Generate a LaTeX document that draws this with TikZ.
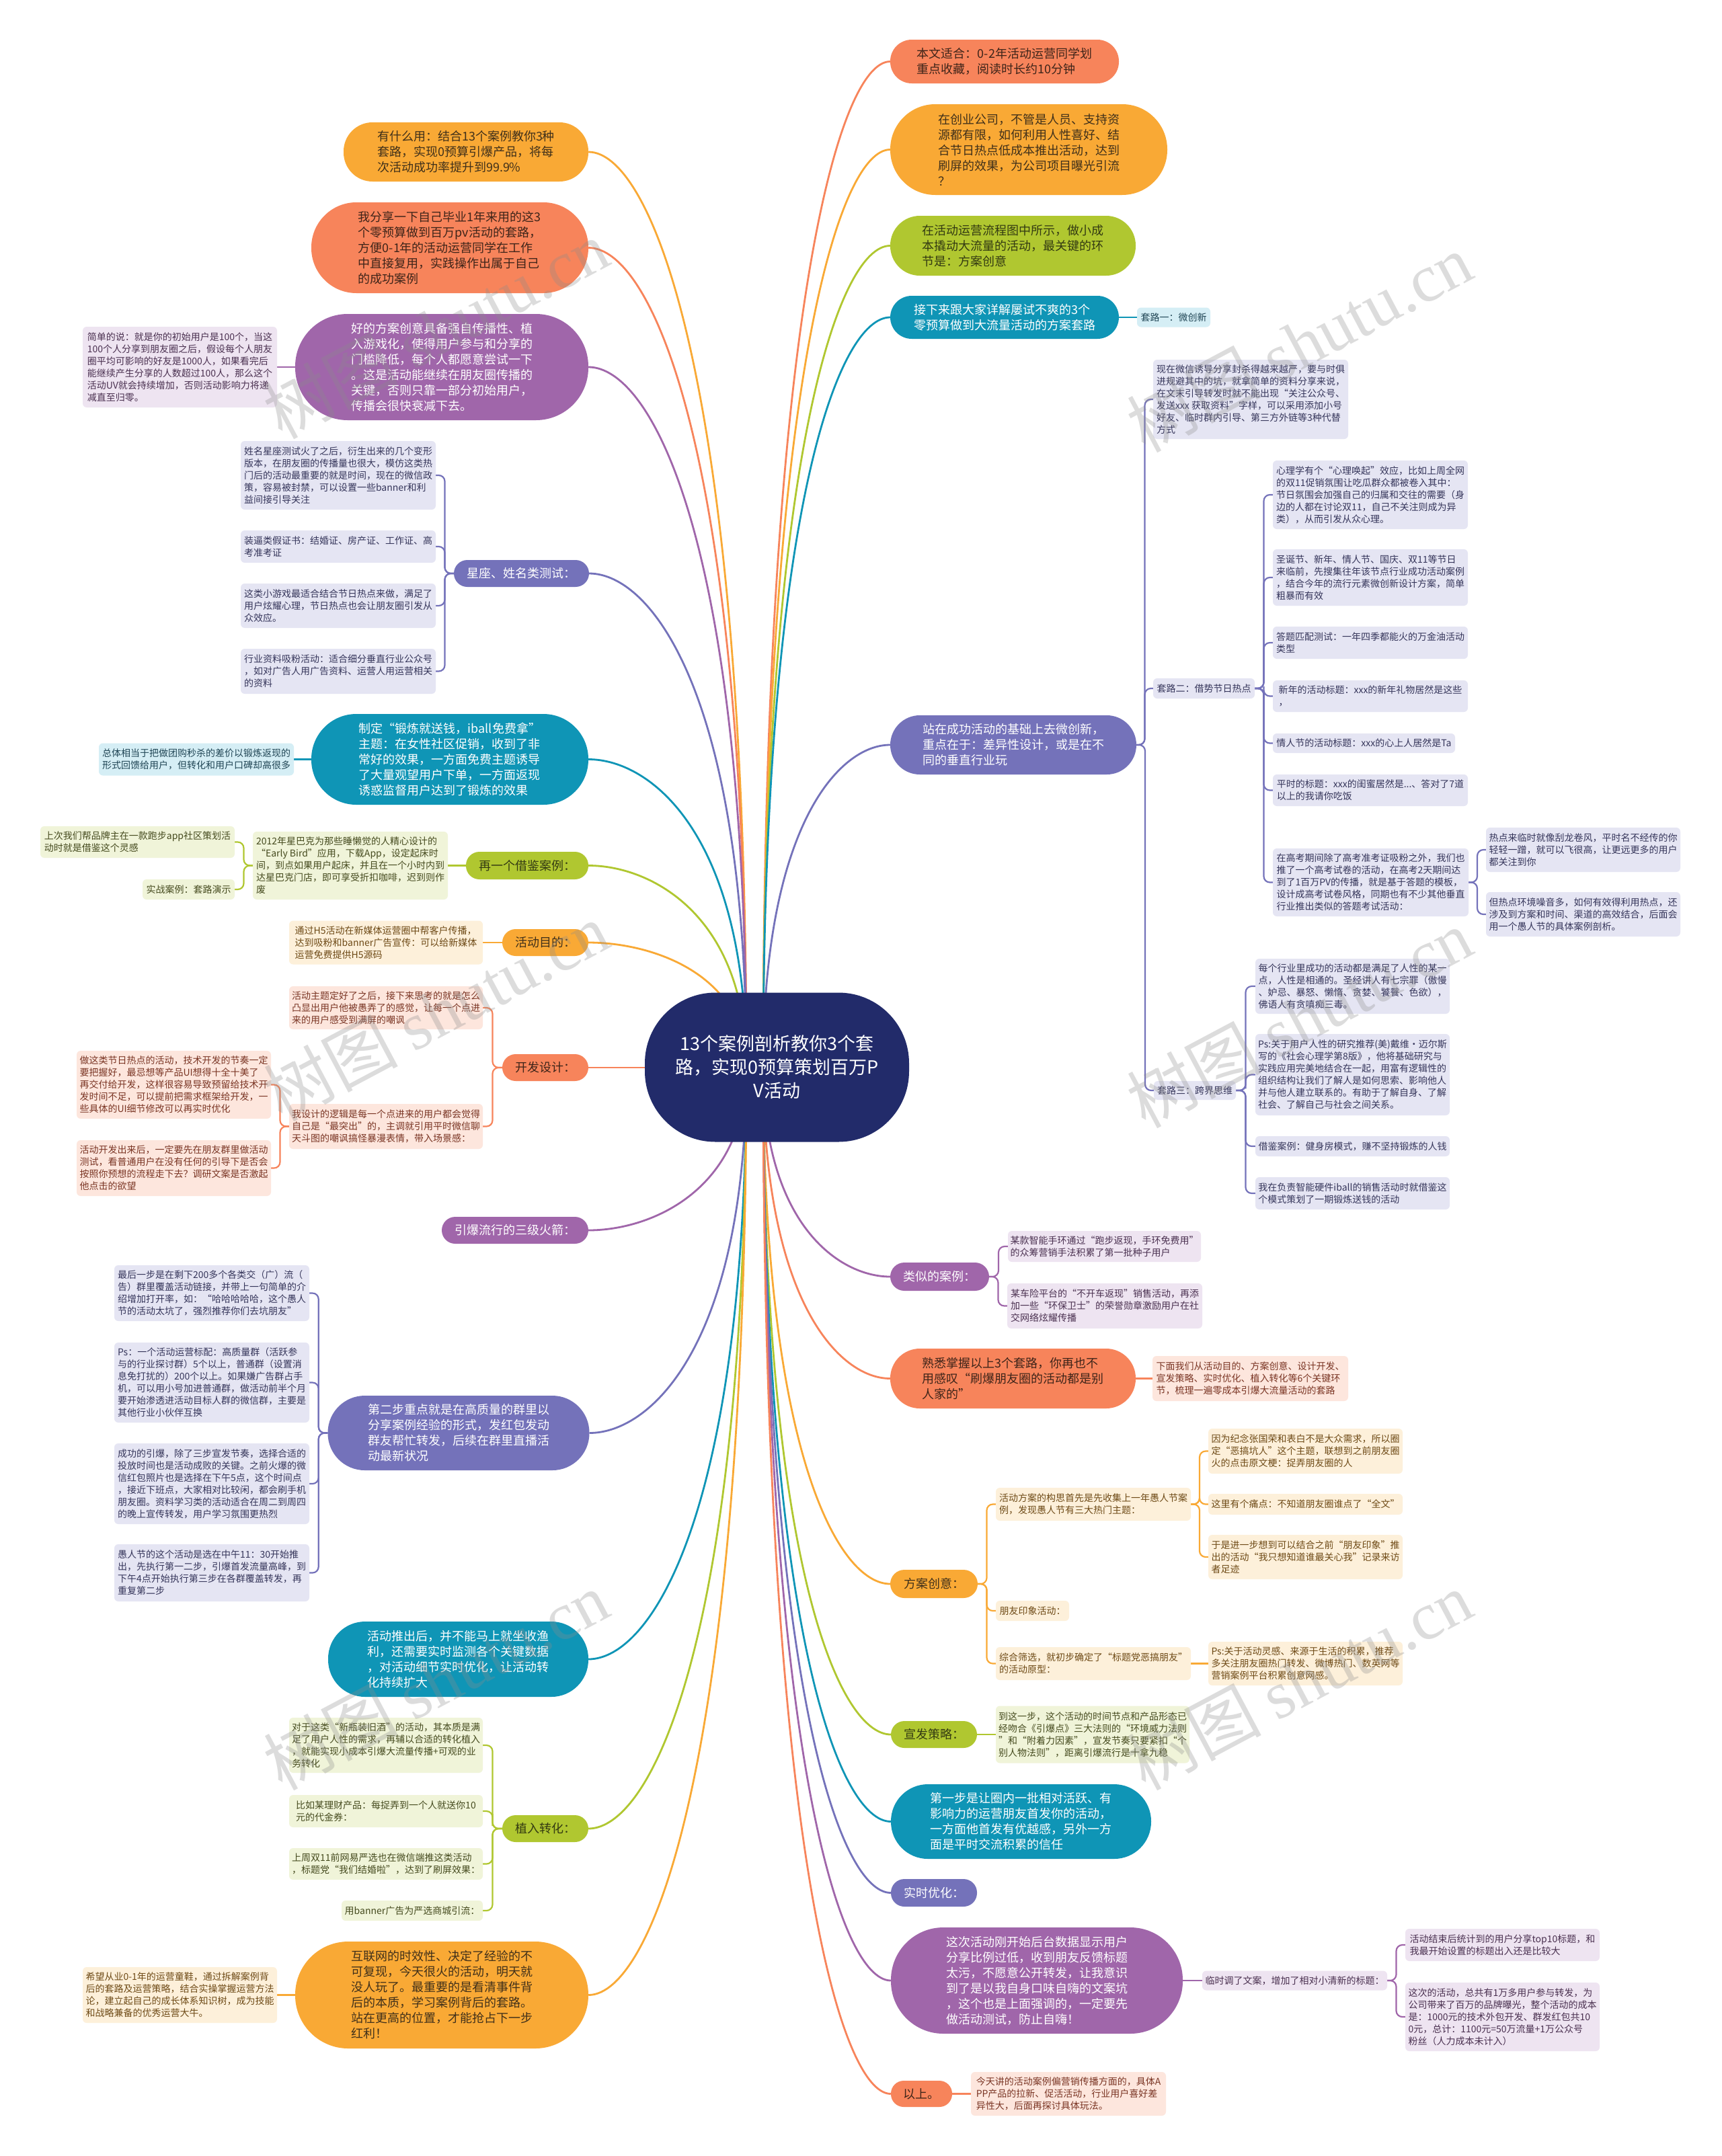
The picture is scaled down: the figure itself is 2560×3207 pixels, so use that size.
\documentclass[tikz,border=0pt]{standalone}
\usepackage{fontspec}
\setmainfont{Noto Sans CJK SC}
\newfontfamily\wmserif{Liberation Serif}
\usetikzlibrary{calc}
\pgfdeclarelayer{bg}
\pgfsetlayers{bg,main}
\definecolor{cOr}{HTML}{F9A935}
\definecolor{cCo}{HTML}{F7845B}
\definecolor{cPu}{HTML}{A066AA}
\definecolor{cBp}{HTML}{7472BA}
\definecolor{cTe}{HTML}{0F95B6}
\definecolor{cGr}{HTML}{B0C730}
\definecolor{cNv}{HTML}{222B6A}
\definecolor{fOr}{HTML}{FDF0DA}
\definecolor{fCo}{HTML}{FDE6DD}
\definecolor{fPu}{HTML}{EEE4F1}
\definecolor{fBp}{HTML}{E5E5F3}
\definecolor{fTe}{HTML}{D5EEF5}
\definecolor{fGr}{HTML}{F0F4D9}
\definecolor{tOr}{HTML}{6E4A16}
\definecolor{tCo}{HTML}{7A3524}
\definecolor{tPu}{HTML}{4A3050}
\definecolor{tBp}{HTML}{35355A}
\definecolor{tTe}{HTML}{1F4454}
\definecolor{tGr}{HTML}{454A1E}
\definecolor{tOrM}{HTML}{40301A}
\definecolor{tCoM}{HTML}{3E2419}
\definecolor{tGrM}{HTML}{333A12}
\tikzset{
  mn/.style n args={3}{fill=#1, text=#2, rounded corners=#3, inner sep=0pt, align=left, font=\fontsize{18pt}{23pt}\selectfont},
  lf/.style n args={2}{fill=#1, text=#2, rounded corners=6pt, inner sep=0pt, align=left, font=\fontsize{14pt}{18pt}\selectfont},
  sz/.style 2 args={minimum width=#1pt, minimum height=#2pt},
  ml/.style={line width=2.8pt},
  lk/.style={line width=2.2pt, rounded corners=9pt},
  wm/.style={text=black!45, opacity=0.3, rotate=28, font=\fontsize{100pt}{110pt}\selectfont},
}
\newcommand\cL[2]{\draw[ml,#1] (sl) .. controls ($(sl)!0.75!(sl |- #2.east)$) and ($(#2.east)!0.4!(sl |- #2.east)$) .. (#2.east);}
\newcommand\cR[2]{\draw[ml,#1] (sr) .. controls ($(sr)!0.75!(sr |- #2.west)$) and ($(#2.west)!0.4!(sr |- #2.west)$) .. (#2.west);}
\newcommand\bL[3]{\draw[lk,#1] (#2.west) -| ($(#2.west)!0.5!(#3.east)$) |- (#3.east);}
\newcommand\bR[3]{\draw[lk,#1] (#2.east) -| ($(#2.east)!0.5!(#3.west)$) |- (#3.west);}
\newcommand\sL[3]{\draw[lk,#1] (#2.west) -- (#3.east);}
\newcommand\sR[3]{\draw[lk,#1] (#2.east) -- (#3.west);}
\begin{document}
\begin{tikzpicture}[x=1pt,y=-1pt]
\useasboundingbox (0,0) rectangle (2560,3207);
\begin{pgfonlayer}{bg}\fill[white] (0,0) rectangle (2560,3207);\end{pgfonlayer}

% ---------- centre ----------
\node[mn={cNv}{white}{105pt}, sz={393}{222}, align=center, font=\fontsize{27pt}{35pt}\selectfont] (cc) at (1155.5,1587.5) {13个案例剖析教你3个套\\路，实现0预算策划百万P\\V活动};
\coordinate (sl) at (1110,1588);
\coordinate (sr) at (1135,1588);

% ---------- left main ----------
\node[mn={cOr}{tOrM}{43pt}, sz={364}{88}] (l1) at (693,226) {有什么用：结合13个案例教你3种\\套路，实现0预算引爆产品，将每\\次活动成功率提升到99.9\%};
\node[mn={cCo}{tCoM}{67pt}, sz={412}{135}] (l2) at (669,368.5) {我分享一下自己毕业1年来用的这3\\个零预算做到百万pv活动的套路，\\方便0-1年的活动运营同学在工作\\中直接复用，实践操作出属于自己\\的成功案例};
\node[mn={cPu}{white}{78pt}, sz={436}{158}] (l3) at (657,546) {好的方案创意具备强自传播性、植\\入游戏化，使得用户参与和分享的\\门槛降低，每个人都愿意尝试一下\\。这是活动能继续在朋友圈传播的\\关键，否则只靠一部分初始用户，\\传播会很快衰减下去。};
\node[lf={fPu}{tPu}, sz={289}{120}] (l3a) at (267.5,546) {简单的说：就是你的初始用户是100个，当这\\100个人分享到朋友圈之后，假设每个人朋友\\圈平均可影响的好友是1000人，如果看完后\\能继续产生分享的人数超过100人，那么这个\\活动UV就会持续增加，否则活动影响力将递\\减直至归零。};

\node[mn={cBp}{white}{20pt}, sz={201}{40}] (l4) at (775.5,853) {星座、姓名类测试：};
\node[lf={fBp}{tBp}, sz={290}{102}] (l4a) at (503,707) {姓名星座测试火了之后，衍生出来的几个变形\\版本，在朋友圈的传播量也很大，模仿这类热\\门后的活动最重要的就是时间，现在的微信政\\策，容易被封禁，可以设置一些banner和利\\益间接引导关注};
\node[lf={fBp}{tBp}, sz={290}{48}] (l4b) at (503,813) {装逼类假证书：结婚证、房产证、工作证、高\\考准考证};
\node[lf={fBp}{tBp}, sz={290}{66}] (l4c) at (503,901) {这类小游戏最适合结合节日热点来做，满足了\\用户炫耀心理，节日热点也会让朋友圈引发从\\众效应。};
\node[lf={fBp}{tBp}, sz={290}{67}] (l4d) at (503,998.5) {行业资料吸粉活动：适合细分垂直行业公众号\\，如对广告人用广告资料、运营人用运营相关\\的资料};

\node[mn={cTe}{white}{67pt}, sz={412}{135}] (l5) at (669,1129.5) {制定“锻炼就送钱，iball免费拿”\\主题：在女性社区促销，收到了非\\常好的效果，一方面免费主题诱导\\了大量观望用户下单，一方面返现\\诱惑监督用户达到了锻炼的效果};
\node[lf={fTe}{tTe}, sz={290}{48}] (l5a) at (292,1129.5) {总体相当于把做团购秒杀的差价以锻炼返现的\\形式回馈给用户，但转化和用户口碑却高很多};

\node[mn={cGr}{tGrM}{20pt}, sz={182}{41}] (l6) at (784,1287.5) {再一个借鉴案例：};
\node[lf={fGr}{tGr}, sz={290}{101}] (l6a) at (521,1287.5) {2012年星巴克为那些睡懒觉的人精心设计的\\“Early Bird”应用，下载App，设定起床时\\间，到点如果用户起床，并且在一个小时内到\\达星巴克门店，即可享受折扣咖啡，迟到则作\\废};
\node[lf={fGr}{tGr}, sz={289}{47}] (l6a1) at (204.5,1252.5) {上次我们帮品牌主在一款跑步app社区策划活\\动时就是借鉴这个灵感};
\node[lf={fGr}{tGr}, sz={137}{30}] (l6a2) at (280.5,1323) {实战案例：套路演示};

\node[mn={cOr}{tOrM}{20pt}, sz={128}{40}] (l7) at (811,1402) {活动目的：};
\node[lf={fOr}{tOr}, sz={288}{65}] (l7a) at (574,1402) {通过H5活动在新媒体运营圈中帮客户传播，\\达到吸粉和banner广告宣传：可以给新媒体\\运营免费提供H5源码};

\node[mn={cCo}{tCoM}{20pt}, sz={128}{40}] (l8) at (811,1588) {开发设计：};
\node[lf={fCo}{tCo}, sz={288}{64}] (l8a) at (574,1499) {活动主题定好了之后，接下来思考的就是怎么\\凸显出用户他被愚弄了的感觉，让每一个点进\\来的用户感受到满屏的嘲讽};
\node[lf={fCo}{tCo}, sz={288}{67}] (l8b) at (574,1675.5) {我设计的逻辑是每一个点进来的用户都会觉得\\自己是“最突出”的，主调就引用平时微信聊\\天斗图的嘲讽搞怪暴漫表情，带入场景感：};
\node[lf={fCo}{tCo}, sz={289}{101}] (l8b1) at (258.5,1613.5) {做这类节日热点的活动，技术开发的节奏一定\\要把握好，最忌想等产品UI想得十全十美了\\再交付给开发，这样很容易导致预留给技术开\\发时间不足，可以提前把需求框架给开发，一\\些具体的UI细节修改可以再实时优化};
\node[lf={fCo}{tCo}, sz={289}{83}] (l8b2) at (258.5,1737.5) {活动开发出来后，一定要先在朋友群里做活动\\测试，看普通用户在没有任何的引导下是否会\\按照你预想的流程走下去？调研文案是否激起\\他点击的欲望};

\node[mn={cPu}{white}{20pt}, sz={218}{40}] (l9) at (766,1830) {引爆流行的三级火箭：};

\node[mn={cBp}{white}{55pt}, sz={389}{111}] (l10) at (682,2131.5) {第二步重点就是在高质量的群里以\\分享案例经验的形式，发红包发动\\群友帮忙转发，后续在群里直播活\\动最新状况};
\node[lf={fBp}{tBp}, sz={290}{83}] (l10a) at (315,1923.5) {最后一步是在剩下200多个各类交（广）流（\\告）群里覆盖活动链接，并带上一句简单的介\\绍增加打开率，如：“哈哈哈哈哈，这个愚人\\节的活动太坑了，强烈推荐你们去坑朋友”};
\node[lf={fBp}{tBp}, sz={290}{119}] (l10b) at (315,2056.5) {Ps：一个活动运营标配：高质量群（活跃参\\与的行业探讨群）5个以上，普通群（设置消\\息免打扰的）200个以上。如果嫌广告群占手\\机，可以用小号加进普通群，做活动前半个月\\要开始渗透进活动目标人群的微信群，主要是\\其他行业小伙伴互换};
\node[lf={fBp}{tBp}, sz={290}{120}] (l10c) at (315,2207) {成功的引爆，除了三步宣发节奏，选择合适的\\投放时间也是活动成败的关键。之前火爆的微\\信红包照片也是选择在下午5点，这个时间点\\，接近下班点，大家相对比较闲，都会刷手机\\朋友圈。资料学习类的活动适合在周二到周四\\的晚上宣传转发，用户学习氛围更热烈};
\node[lf={fBp}{tBp}, sz={290}{85}] (l10d) at (315,2339.5) {愚人节的这个活动是选在中午11：30开始推\\出，先执行第一二步，引爆首发流量高峰，到\\下午4点开始执行第三步在各群覆盖转发，再\\重复第二步};

\node[mn={cTe}{white}{55pt}, sz={387}{112}] (l11) at (681.5,2468) {活动推出后，并不能马上就坐收渔\\利，还需要实时监测各个关键数据\\，对活动细节实时优化，让活动转\\化持续扩大};

\node[mn={cGr}{tGrM}{20pt}, sz={128}{40}] (l12) at (811,2720) {植入转化：};
\node[lf={fGr}{tGr}, sz={288}{82}] (l12a) at (574,2596) {对于这类“新瓶装旧酒”的活动，其本质是满\\足了用户人性的需求，再辅以合适的转化植入\\，就能实现小成本引爆大流量传播+可观的业\\务转化};
\node[lf={fGr}{tGr}, sz={288}{48}] (l12b) at (574,2694) {比如某理财产品：每捉弄到一个人就送你10\\元的代金券：};
\node[lf={fGr}{tGr}, sz={288}{47}] (l12c) at (574,2772.5) {上周双11前网易严选也在微信端推这类活动\\，标题党“我们结婚啦”，达到了刷屏效果：};
\node[lf={fGr}{tGr}, sz={210}{30}] (l12d) at (613,2842) {用banner广告为严选商城引流：};

\node[mn={cOr}{tOrM}{79pt}, sz={436}{159}] (l13) at (657,2967.5) {互联网的时效性、决定了经验的不\\可复现，今天很火的活动，明天就\\没人玩了。最重要的是看清事件背\\后的本质，学习案例背后的套路。\\站在更高的位置，才能抢占下一步\\红利！};
\node[lf={fOr}{tOr}, sz={289}{83}] (l13a) at (267.5,2967.5) {希望从业0-1年的运营童鞋，通过拆解案例背\\后的套路及运营策略，结合实操掌握运营方法\\论，建立起自己的成长体系知识树，成为技能\\和战略兼备的优秀运营大牛。};

% ---------- right main ----------
\node[mn={cCo}{tCoM}{32pt}, sz={340}{65}] (r1) at (1494,91.5) {本文适合：0-2年活动运营同学划\\重点收藏，阅读时长约10分钟};
\node[mn={cOr}{tOrM}{67pt}, sz={412}{135}] (r2) at (1530,222.5) {在创业公司，不管是人员、支持资\\源都有限，如何利用人性喜好、结\\合节日热点低成本推出活动，达到\\刷屏的效果，为公司项目曝光引流\\？};
\node[mn={cGr}{tGrM}{44pt}, sz={365}{89}] (r3) at (1506.5,365.5) {在活动运营流程图中所示，做小成\\本撬动大流量的活动，最关键的环\\节是：方案创意};
\node[mn={cTe}{white}{32pt}, sz={340}{64}] (r4) at (1494,472) {接下来跟大家详解屡试不爽的3个\\零预算做到大流量活动的方案套路};
\node[lf={fTe}{tTe}, sz={109}{29}] (r4a) at (1745.5,472) {套路一：微创新};

\node[mn={cBp}{white}{44pt}, sz={366}{88}] (r5) at (1507,1108) {站在成功活动的基础上去微创新，\\重点在于：差异性设计，或是在不\\同的垂直行业玩};
\node[lf={fBp}{tBp}, sz={290}{118}] (r5a) at (1860,594) {现在微信诱导分享封杀得越来越严，要与时俱\\进规避其中的坑，就拿简单的资料分享来说，\\在文末引导转发时就不能出现“关注公众号、\\发送xxx 获取资料”字样，可以采用添加小号\\好友、临时群内引导、第三方外链等3种代替\\方式};
\node[lf={fBp}{tBp}, sz={151}{30}] (r5b) at (1790.5,1024) {套路二：借势节日热点};
\node[lf={fBp}{tBp}, sz={290}{102}] (r5b1) at (2038,736) {心理学有个“心理唤起”效应，比如上周全网\\的双11促销氛围让吃瓜群众都被卷入其中：\\节日氛围会加强自己的归属和交往的需要（身\\边的人都在讨论双11，自己不关注则成为异\\类），从而引发从众心理。};
\node[lf={fBp}{tBp}, sz={290}{84}] (r5b2) at (2038,859) {圣诞节、新年、情人节、国庆、双11等节日\\来临前，先搜集往年该节点行业成功活动案例\\，结合今年的流行元素微创新设计方案，简单\\粗暴而有效};
\node[lf={fBp}{tBp}, sz={290}{48}] (r5b3) at (2038,956) {答题匹配测试：一年四季都能火的万金油活动\\类型};
\node[lf={fBp}{tBp}, sz={290}{47}] (r5b4) at (2038,1035.5) {新年的活动标题：xxx的新年礼物居然是这些\\，};
\node[lf={fBp}{tBp}, sz={271}{29}] (r5b5) at (2028.5,1105.5) {情人节的活动标题：xxx的心上人居然是Ta};
\node[lf={fBp}{tBp}, sz={290}{47}] (r5b6) at (2038,1175.5) {平时的标题：xxx的闺蜜居然是...、答对了7道\\以上的我请你吃饭};
\node[lf={fBp}{tBp}, sz={291}{101}] (r5b7) at (2038.5,1312.5) {在高考期间除了高考准考证吸粉之外，我们也\\推了一个高考试卷的活动，在高考2天期间达\\到了1百万PV的传播，就是基于答题的模板，\\设计成高考试卷风格，同期也有不少其他垂直\\行业推出类似的答题考试活动：};
\node[lf={fBp}{tBp}, sz={289}{66}] (r5b7a) at (2354.5,1264) {热点来临时就像刮龙卷风，平时名不经传的你\\轻轻一蹭，就可以飞很高，让更远更多的用户\\都关注到你};
\node[lf={fBp}{tBp}, sz={289}{66}] (r5b7b) at (2354.5,1360) {但热点环境噪音多，如何有效得利用热点，还\\涉及到方案和时间、渠道的高效结合，后面会\\用一个愚人节的具体案例剖析。};
\node[lf={fBp}{tBp}, sz={122}{28}] (r5c) at (1777,1622) {套路三：跨界思维};
\node[lf={fBp}{tBp}, sz={289}{82}] (r5c1) at (2011.5,1467) {每个行业里成功的活动都是满足了人性的某一\\点，人性是相通的。圣经讲人有七宗罪（傲慢\\、妒忌、暴怒、懒惰、贪婪、饕餮、色欲），\\佛语人有贪嗔痴三毒。};
\node[lf={fBp}{tBp}, sz={289}{121}] (r5c2) at (2011.5,1598.5) {Ps:关于用户人性的研究推荐(美)戴维·迈尔斯\\写的《社会心理学第8版》，他将基础研究与\\实践应用完美地结合在一起，用富有逻辑性的\\组织结构让我们了解人是如何思索、影响他人\\并与他人建立联系的。有助于了解自身、了解\\社会、了解自己与社会之间关系。};
\node[lf={fBp}{tBp}, sz={289}{30}] (r5c3) at (2011.5,1705) {借鉴案例：健身房模式，赚不坚持锻炼的人钱};
\node[lf={fBp}{tBp}, sz={289}{48}] (r5c4) at (2011.5,1775) {我在负责智能硬件iball的销售活动时就借鉴这\\个模式策划了一期锻炼送钱的活动};

\node[mn={cPu}{white}{21pt}, sz={147}{42}] (r6) at (1397.5,1899) {类似的案例：};
\node[lf={fPu}{tPu}, sz={287}{46}] (r6a) at (1642.5,1854) {某款智能手环通过“跑步返现，手环免费用”\\的众筹营销手法积累了第一批种子用户};
\node[lf={fPu}{tPu}, sz={290}{67}] (r6b) at (1643,1942.5) {某车险平台的“不开车返现”销售活动，再添\\加一些“环保卫士”的荣誉勋章激励用户在社\\交网络炫耀传播};

\node[mn={cCo}{tCoM}{44pt}, sz={365}{89}] (r7) at (1506.5,2050.5) {熟悉掌握以上3个套路，你再也不\\用感叹“刷爆朋友圈的活动都是别\\人家的”};
\node[lf={fCo}{tCo}, sz={291}{67}] (r7a) at (1859.5,2050.5) {下面我们从活动目的、方案创意、设计开发、\\宣发策略、实时优化、植入转化等6个关键环\\节，梳理一遍零成本引爆大流量活动的套路};

\node[mn={cOr}{tOrM}{21pt}, sz={130}{42}] (r8) at (1389,2356) {方案创意：};
\node[lf={fOr}{tOr}, sz={290}{49}] (r8a) at (1626,2237.5) {活动方案的构思首先是先收集上一年愚人节案\\例，发现愚人节有三大热门主题：};
\node[lf={fOr}{tOr}, sz={289}{67}] (r8a1) at (1941.5,2158.5) {因为纪念张国荣和表白不是大众需求，所以圈\\定“恶搞坑人”这个主题，联想到之前朋友圈\\火的点击原文梗：捉弄朋友圈的人};
\node[lf={fOr}{tOr}, sz={289}{31}] (r8a2) at (1941.5,2237.5) {这里有个痛点：不知道朋友圈谁点了“全文”};
\node[lf={fOr}{tOr}, sz={289}{66}] (r8a3) at (1941.5,2316) {于是进一步想到可以结合之前“朋友印象”推\\出的活动“我只想知道谁最关心我”记录来访\\者足迹};
\node[lf={fOr}{tOr}, sz={109}{30}] (r8b) at (1535.5,2396) {朋友印象活动：};
\node[lf={fOr}{tOr}, sz={290}{49}] (r8c) at (1626,2474.5) {综合筛选，就初步确定了“标题党恶搞朋友”\\的活动原型：};
\node[lf={fOr}{tOr}, sz={289}{65}] (r8c1) at (1941.5,2474.5) {Ps:关于活动灵感、来源于生活的积累，推荐\\多关注朋友圈热门转发、微博热门、数英网等\\营销案例平台积累创意网感。};

\node[mn={cGr}{tGrM}{20pt}, sz={128}{40}] (r9) at (1389,2580) {宣发策略：};
\node[lf={fGr}{tGr}, sz={288}{85}] (r9a) at (1625,2580) {到这一步，这个活动的时间节点和产品形态已\\经吻合《引爆点》三大法则的“环境威力法则\\”和“附着力因素”，宣发节奏只要紧扣“个\\别人物法则”，距离引爆流行是十拿九稳};

\node[mn={cTe}{white}{55pt}, sz={387}{111}] (r10) at (1518.5,2709.5) {第一步是让圈内一批相对活跃、有\\影响力的运营朋友首发你的活动，\\一方面他首发有优越感，另外一方\\面是平时交流积累的信任};
\node[mn={cBp}{white}{20pt}, sz={128}{41}] (r11) at (1389,2815.5) {实时优化：};

\node[mn={cPu}{white}{78pt}, sz={434}{158}] (r12) at (1542,2946) {这次活动刚开始后台数据显示用户\\分享比例过低，收到朋友反馈标题\\太污，不愿意公开转发，让我意识\\到了是以我自身口味自嗨的文案坑\\，这个也是上面强调的，一定要先\\做活动测试，防止自嗨！};
\node[lf={fPu}{tPu}, sz={275}{29}] (r12a) at (1925.5,2946) {临时调了文案，增加了相对小清新的标题：};
\node[lf={fPu}{tPu}, sz={289}{48}] (r12a1) at (2234.5,2893) {活动结束后统计到的用户分享top10标题，和\\我最开始设置的标题出入还是比较大};
\node[lf={fPu}{tPu}, sz={289}{102}] (r12a2) at (2234.5,3000) {这次的活动，总共有1万多用户参与转发，为\\公司带来了百万的品牌曝光，整个活动的成本\\是：1000元的技术外包开发、群发红包共10\\0元，总计：1100元=50万流量+1万公众号\\粉丝（人力成本未计入）};

\node[mn={cCo}{tCoM}{19pt}, sz={91}{39}] (r13) at (1370.5,3114.5) {以上。};
\node[lf={fCo}{tCo}, sz={290}{65}] (r13a) at (1589,3114.5) {今天讲的活动案例偏营销传播方面的，具体A\\PP产品的拉新、促活活动，行业用户喜好差\\异性大，后面再探讨具体玩法。};

% ---------- connectors ----------
\begin{pgfonlayer}{bg}
\cL{cOr}{l1}\cL{cCo}{l2}\cL{cPu}{l3}\cL{cBp}{l4}\cL{cTe}{l5}\cL{cGr}{l6}\cL{cOr}{l7}
\cL{cCo}{l8}\cL{cPu}{l9}\cL{cBp}{l10}\cL{cTe}{l11}\cL{cGr}{l12}\cL{cOr}{l13}
\cR{cCo}{r1}\cR{cOr}{r2}\cR{cGr}{r3}\cR{cTe}{r4}\cR{cBp}{r5}\cR{cPu}{r6}\cR{cCo}{r7}
\cR{cOr}{r8}\cR{cGr}{r9}\cR{cTe}{r10}\cR{cBp}{r11}\cR{cPu}{r12}\cR{cCo}{r13}

\sL{cPu}{l3}{l3a}
\bL{cBp}{l4}{l4a}\bL{cBp}{l4}{l4b}\bL{cBp}{l4}{l4c}\bL{cBp}{l4}{l4d}
\sL{cTe}{l5}{l5a}
\sL{cGr}{l6}{l6a}
\bL{cGr}{l6a}{l6a1}\bL{cGr}{l6a}{l6a2}
\sL{cOr}{l7}{l7a}
\bL{cCo}{l8}{l8a}\bL{cCo}{l8}{l8b}
\bL{cCo}{l8b}{l8b1}\bL{cCo}{l8b}{l8b2}
\bL{cBp}{l10}{l10a}\bL{cBp}{l10}{l10b}\bL{cBp}{l10}{l10c}\bL{cBp}{l10}{l10d}
\bL{cGr}{l12}{l12a}\bL{cGr}{l12}{l12b}\bL{cGr}{l12}{l12c}\bL{cGr}{l12}{l12d}
\sL{cOr}{l13}{l13a}

\sR{cTe}{r4}{r4a}
\bR{cBp}{r5}{r5a}\bR{cBp}{r5}{r5b}\bR{cBp}{r5}{r5c}
\bR{cBp}{r5b}{r5b1}\bR{cBp}{r5b}{r5b2}\bR{cBp}{r5b}{r5b3}\bR{cBp}{r5b}{r5b4}
\bR{cBp}{r5b}{r5b5}\bR{cBp}{r5b}{r5b6}\bR{cBp}{r5b}{r5b7}
\bR{cBp}{r5b7}{r5b7a}\bR{cBp}{r5b7}{r5b7b}
\bR{cBp}{r5c}{r5c1}\bR{cBp}{r5c}{r5c2}\bR{cBp}{r5c}{r5c3}\bR{cBp}{r5c}{r5c4}
\bR{cPu}{r6}{r6a}\bR{cPu}{r6}{r6b}
\sR{cCo}{r7}{r7a}
\bR{cOr}{r8}{r8a}\bR{cOr}{r8}{r8b}\bR{cOr}{r8}{r8c}
\bR{cOr}{r8a}{r8a1}\bR{cOr}{r8a}{r8a2}\bR{cOr}{r8a}{r8a3}
\sR{cOr}{r8c}{r8c1}
\sR{cGr}{r9}{r9a}
\sR{cPu}{r12}{r12a}
\bR{cPu}{r12a}{r12a1}\bR{cPu}{r12a}{r12a2}
\sR{cCo}{r13}{r13a}
\end{pgfonlayer}

% ---------- watermarks ----------
\node[wm] (wm1) at (648,490) {树图 {\wmserif shutu.cn}};
\node[wm] (wm2) at (1932,510) {树图 {\wmserif shutu.cn}};
\node[wm] (wm3) at (648,1505) {树图 {\wmserif shutu.cn}};
\node[wm] (wm4) at (1932,1515) {树图 {\wmserif shutu.cn}};
\node[wm] (wm5) at (648,2500) {树图 {\wmserif shutu.cn}};
\node[wm] (wm6) at (1932,2500) {树图 {\wmserif shutu.cn}};
\end{tikzpicture}
\end{document}
